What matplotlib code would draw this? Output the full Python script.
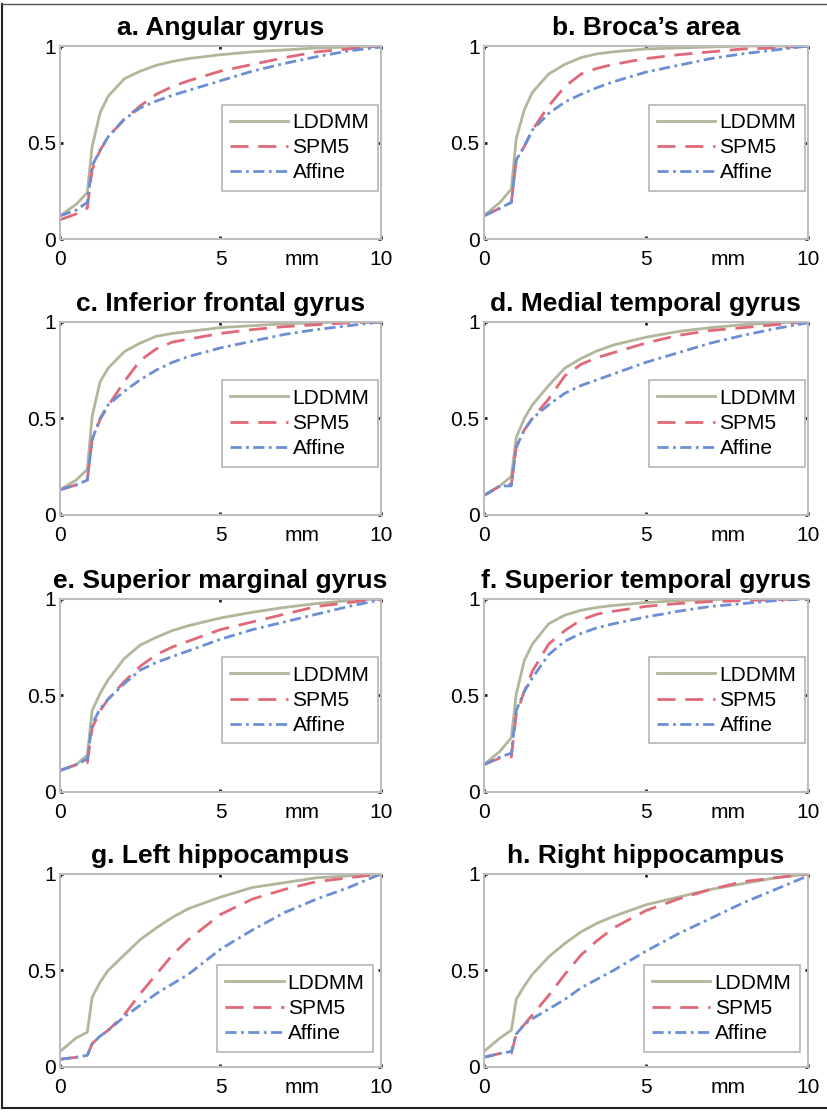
import numpy as np
import matplotlib
matplotlib.use('Agg')
import matplotlib.pyplot as plt
from matplotlib.lines import Line2D

plt.rcParams['font.family'] = ['Liberation Sans', 'DejaVu Sans']

# distance (mm) at which each curve is sampled
dist = [0, 0.5, 0.85, 1.0, 1.25, 1.5, 2, 2.5, 3, 3.5, 4, 5, 6, 7, 8, 9, 10]

titles = ['a. Angular gyrus', "b. Broca\u2019s area", 'c. Inferior frontal gyrus',
          'd. Medial temporal gyrus', 'e. Superior marginal gyrus',
          'f. Superior temporal gyrus', 'g. Left hippocampus', 'h. Right hippocampus']
methods = ['LDDMM', 'SPM5', 'Affine']

lddmm = [
    [0.12, 0.18, 0.24, 0.48, 0.655, 0.74, 0.83, 0.87, 0.90, 0.92, 0.935, 0.955, 0.97, 0.98, 0.99, 0.995, 1.0],
    [0.12, 0.19, 0.26, 0.52, 0.67, 0.76, 0.855, 0.905, 0.94, 0.96, 0.97, 0.985, 0.99, 0.995, 1.0, 1.0, 1.0],
    [0.13, 0.18, 0.235, 0.51, 0.69, 0.76, 0.845, 0.89, 0.925, 0.94, 0.95, 0.97, 0.98, 0.99, 0.995, 1.0, 1.0],
    [0.10, 0.15, 0.20, 0.40, 0.50, 0.57, 0.67, 0.76, 0.81, 0.85, 0.88, 0.92, 0.95, 0.97, 0.985, 0.995, 1.0],
    [0.11, 0.14, 0.19, 0.42, 0.51, 0.58, 0.69, 0.76, 0.80, 0.835, 0.86, 0.90, 0.93, 0.955, 0.975, 0.99, 1.0],
    [0.14, 0.21, 0.28, 0.505, 0.68, 0.765, 0.87, 0.915, 0.94, 0.955, 0.965, 0.98, 0.99, 0.995, 1.0, 1.0, 1.0],
    [0.08, 0.15, 0.18, 0.36, 0.44, 0.50, 0.58, 0.66, 0.72, 0.775, 0.82, 0.88, 0.93, 0.955, 0.98, 0.99, 1.0],
    [0.08, 0.15, 0.19, 0.35, 0.42, 0.48, 0.57, 0.64, 0.70, 0.745, 0.78, 0.84, 0.88, 0.92, 0.95, 0.98, 1.0],
]
spm5 = [
    [0.10, 0.13, 0.16, 0.36, 0.46, 0.53, 0.62, 0.69, 0.75, 0.79, 0.82, 0.87, 0.905, 0.94, 0.97, 0.985, 1.0],
    [0.12, 0.16, 0.19, 0.41, 0.48, 0.565, 0.69, 0.79, 0.855, 0.885, 0.905, 0.935, 0.955, 0.97, 0.985, 0.99, 1.0],
    [0.13, 0.155, 0.18, 0.39, 0.495, 0.565, 0.69, 0.80, 0.86, 0.895, 0.91, 0.94, 0.96, 0.975, 0.985, 0.995, 1.0],
    [0.10, 0.15, 0.16, 0.35, 0.44, 0.50, 0.60, 0.72, 0.78, 0.815, 0.84, 0.89, 0.93, 0.955, 0.97, 0.985, 1.0],
    [0.11, 0.14, 0.15, 0.33, 0.42, 0.48, 0.57, 0.65, 0.71, 0.75, 0.78, 0.84, 0.88, 0.92, 0.96, 0.98, 1.0],
    [0.14, 0.175, 0.18, 0.40, 0.52, 0.625, 0.765, 0.835, 0.89, 0.92, 0.935, 0.96, 0.975, 0.985, 0.99, 0.995, 1.0],
    [0.04, 0.05, 0.06, 0.12, 0.16, 0.19, 0.27, 0.38, 0.48, 0.58, 0.66, 0.79, 0.87, 0.92, 0.96, 0.98, 1.0],
    [0.05, 0.07, 0.07, 0.17, 0.22, 0.27, 0.37, 0.48, 0.58, 0.655, 0.72, 0.81, 0.87, 0.92, 0.96, 0.98, 1.0],
]
affine = [
    [0.12, 0.15, 0.19, 0.38, 0.46, 0.53, 0.62, 0.68, 0.715, 0.745, 0.77, 0.82, 0.87, 0.91, 0.945, 0.975, 0.995],
    [0.12, 0.16, 0.19, 0.41, 0.48, 0.565, 0.65, 0.71, 0.75, 0.785, 0.815, 0.865, 0.90, 0.935, 0.96, 0.98, 1.0],
    [0.13, 0.155, 0.18, 0.39, 0.50, 0.57, 0.64, 0.70, 0.75, 0.79, 0.82, 0.865, 0.90, 0.935, 0.96, 0.98, 1.0],
    [0.10, 0.15, 0.15, 0.35, 0.44, 0.50, 0.57, 0.63, 0.67, 0.70, 0.73, 0.79, 0.84, 0.89, 0.93, 0.965, 0.995],
    [0.11, 0.14, 0.17, 0.35, 0.43, 0.48, 0.56, 0.63, 0.67, 0.70, 0.73, 0.79, 0.84, 0.88, 0.92, 0.96, 0.995],
    [0.14, 0.18, 0.20, 0.42, 0.52, 0.59, 0.71, 0.78, 0.82, 0.85, 0.87, 0.905, 0.935, 0.96, 0.975, 0.99, 1.0],
    [0.04, 0.05, 0.06, 0.12, 0.16, 0.19, 0.26, 0.32, 0.38, 0.43, 0.48, 0.61, 0.71, 0.80, 0.87, 0.93, 1.0],
    [0.05, 0.07, 0.08, 0.17, 0.22, 0.25, 0.30, 0.35, 0.41, 0.455, 0.50, 0.60, 0.69, 0.77, 0.85, 0.92, 0.99],
]

colors = ['#b2b69a', '#e06878', '#6b8ed4']
styles = ['-', (0, (6.5, 3.5)), (0, (4, 1.6, 1, 1.6))]

fig = plt.figure(figsize=(8.27, 11.12), dpi=100)

lefts = [0.0726, 0.585]
widths = [0.388, 0.392]
bottoms = [0.785, 0.537, 0.288, 0.0405]
height = 0.1736

for i in range(8):
    row, col = i // 2, i % 2
    ax = fig.add_axes([lefts[col], bottoms[row], widths[col], height])
    for data, c, ls, name in zip([lddmm[i], spm5[i], affine[i]], colors, styles, methods):
        ax.plot(dist, data, color=c, linestyle=ls, lw=2, label=name)
    ax.set_xlim(0, 10)
    ax.set_ylim(0, 1)
    ax.set_xticks([0, 5, 10])
    ax.set_yticks([0, 0.5, 1])
    ax.set_yticklabels(['0', '0.5', '1'])
    ax.tick_params(direction='in', length=2, width=2, color='#222222',
                   top=True, right=True, labelsize=15)
    ax.tick_params(axis='x', pad=8)
    ax.tick_params(axis='y', pad=3)
    for s in ax.spines.values():
        s.set_color('#bdbdbd')
        s.set_linewidth(1.5)
    ax.set_title(titles[i], fontsize=19, fontweight='bold', pad=8)
    ax.annotate('mm', xy=(7.55, 0), xycoords=('data', 'axes fraction'),
                xytext=(0, -8), textcoords='offset points',
                ha='center', va='top', fontsize=15)
    anchor = (0.99, 0.25) if row < 3 else (0.975, 0.08)
    leg = ax.legend(loc='lower right', bbox_to_anchor=anchor, fontsize=15,
                    handlelength=2.8, handletextpad=0.2, borderpad=0.4,
                    labelspacing=0.3, fancybox=False, framealpha=1,
                    borderaxespad=0)
    leg.get_frame().set_edgecolor('#b5b5b5')
    leg.get_frame().set_linewidth(1.2)

# scanned-page border
fig.add_artist(Line2D([0.003, 0.003], [0.004, 0.996], color='#222222', lw=1.5))
fig.add_artist(Line2D([0.003, 1.0], [0.004, 0.004], color='#222222', lw=1.5))
fig.add_artist(Line2D([0.003, 1.0], [0.996, 0.996], color='#555555', lw=1.0))

fig.savefig('out.png', dpi=100)
